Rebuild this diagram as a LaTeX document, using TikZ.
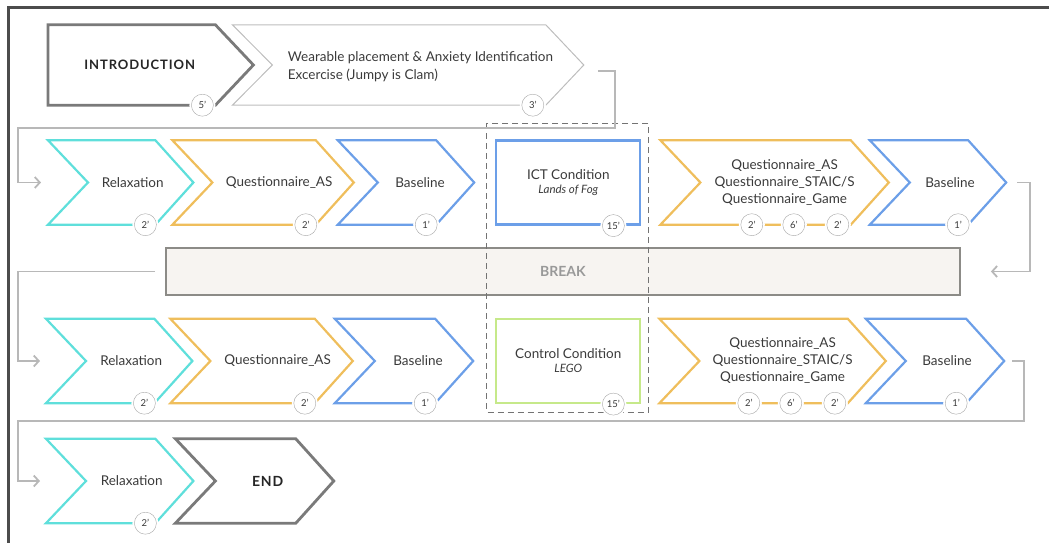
\documentclass[tikz,border=0pt]{standalone}
\usepackage{fontspec}
\setmainfont{Lato}
\usetikzlibrary{positioning,arrows.meta}

\definecolor{relaxcol}{HTML}{5FDFDB}
\definecolor{quescol}{HTML}{EFBE5C}
\definecolor{basecol}{HTML}{6C9FE8}
\definecolor{legocol}{HTML}{C6E98A}
\definecolor{introcol}{HTML}{7A7A7A}
\definecolor{wearcol}{HTML}{BDBDBD}
\definecolor{flowcol}{HTML}{B8B8B8}
\definecolor{breakfill}{HTML}{F7F4F1}
\definecolor{breakline}{HTML}{8C8B87}
\definecolor{textcol}{HTML}{3A3A3A}

\tikzset{
  stepbox/.style={minimum height=84pt, inner sep=0pt, anchor=west},
  steplabel/.style={text=textcol, font=\fontsize{13.5}{18}\selectfont, align=center},
  condbox/.style={rectangle, line width=2.2pt, minimum width=144pt, minimum height=84pt,
    text=textcol, font=\fontsize{13.5}{18}\selectfont, align=center},
  mins/.style={circle, draw=gray!70, fill=white, minimum size=22pt, inner sep=0pt,
    font=\fontsize{9.5}{9.5}\selectfont, text=textcol, preaction={draw=white, line width=4pt}},
  flow/.style={draw=flowcol, line width=1.8pt, -{Straight Barb[length=5pt, width=11pt]}},
  relaxline/.style={draw=relaxcol, line width=2.2pt},
  quesline/.style={draw=quescol, line width=2.2pt},
  baseline/.style={draw=basecol, line width=2.2pt},
}

% chevron outline around a stepbox node (#1 = notch depth)
\newcommand{\chevron}[3][40pt]{%
  \draw[#3, line join=miter] (#2.north west) -- ([xshift=-38pt]#2.north east) -- (#2.east)
    -- ([xshift=-38pt]#2.south east) -- (#2.south west) -- ([xshift=#1]#2.west) -- cycle;}

\begin{document}
\begin{tikzpicture}[x=1pt, y=-1pt]
  \useasboundingbox (0,0) rectangle (1049,543);
  \draw[draw=black!70, line width=3pt] (8,543) -- (8,8) -- (1049,8);

  % intro row
  \node[stepbox, minimum width=205pt, minimum height=80pt,
    label={[xshift=-11pt, text=black!85, font=\fontsize{13}{13}\selectfont\bfseries\addfontfeature{LetterSpace=7}]center:INTRODUCTION}] (intro) at (48,65) {};
  \node[stepbox, minimum width=351pt, minimum height=80pt, right=-21pt of intro,
    label={[anchor=west, xshift=52pt, steplabel, align=left, yshift=-2pt]west:Wearable placement \& Anxiety Identification\\Excercise (Jumpy is Clam)}] (wear) {};
  \chevron[0pt]{intro}{draw=introcol, line width=2.8pt}
  \chevron{wear}{draw=wearcol, line width=1pt}

  % first session
  \node[stepbox, minimum width=145pt, label={[xshift=12pt, steplabel]center:Relaxation}] (rel1) at (48,182.5) {};
  \node[stepbox, minimum width=181pt, right=-21pt of rel1, label={[xshift=16pt, steplabel]center:Questionnaire\_AS}] (qas1) {};
  \node[stepbox, minimum width=136pt, right=-16pt of qas1, label={[xshift=14pt, steplabel]center:Baseline}] (base1) {};
  \node[condbox, draw=basecol, right=21pt of base1] (ict) {ICT Condition\\[-4pt]{\itshape\fontsize{11.5}{14}\selectfont Lands of Fog}};
  \node[stepbox, minimum width=228pt, right=19pt of ict,
    label={[xshift=10pt, steplabel]center:Questionnaire\_AS\\[-1pt]Questionnaire\_STAIC/S\\[-1pt]Questionnaire\_Game}] (qall1) {};
  \node[stepbox, minimum width=136pt, right=-19pt of qall1, label={[xshift=12pt, steplabel]center:Baseline}] (base2) {};
  \chevron{rel1}{relaxline}
  \chevron{qas1}{quesline}
  \chevron{base1}{baseline}
  \chevron{qall1}{quesline}
  \chevron{base2}{baseline}

  % break
  \node[draw=breakline, fill=breakfill, line width=1.8pt, minimum width=794pt, minimum height=47pt,
    text=black!40, font=\fontsize{14}{14}\selectfont\bfseries] (brk) at (563,271.5) {BREAK};

  % second session
  \node[stepbox, minimum width=146pt, label={[xshift=12pt, steplabel]center:Relaxation}] (rel2) at (46,361) {};
  \node[stepbox, minimum width=182pt, right=-22pt of rel2, label={[xshift=16pt, steplabel]center:Questionnaire\_AS}] (qas2) {};
  \node[stepbox, minimum width=138pt, right=-18pt of qas2, label={[xshift=14pt, steplabel]center:Baseline}] (base3) {};
  \node[condbox, draw=legocol, right=22pt of base3] (ctrl) {Control Condition\\[-4pt]{\itshape\fontsize{11.5}{14}\selectfont LEGO}};
  \node[stepbox, minimum width=226pt, right=18pt of ctrl,
    label={[xshift=10pt, steplabel]center:Questionnaire\_AS\\[-1pt]Questionnaire\_STAIC/S\\[-1pt]Questionnaire\_Game}] (qall2) {};
  \node[stepbox, minimum width=138pt, right=-20pt of qall2, label={[xshift=12pt, steplabel]center:Baseline}] (base4) {};
  \chevron{rel2}{relaxline}
  \chevron{qas2}{quesline}
  \chevron{base3}{baseline}
  \chevron{qall2}{quesline}
  \chevron{base4}{baseline}

  % closing row
  \node[stepbox, minimum width=147pt, label={[xshift=12pt, steplabel]center:Relaxation}] (rel3) at (46,481) {};
  \node[stepbox, minimum width=158pt, right=-18pt of rel3,
    label={[xshift=13pt, text=black!85, font=\fontsize{14}{14}\selectfont\bfseries\addfontfeature{LetterSpace=6}]center:END}] (end) {};
  \chevron{rel3}{relaxline}
  \chevron{end}{draw=introcol, line width=2.8pt}

  % conditions frame
  \draw[draw=black!55, line width=1.2pt, dash pattern=on 6pt off 4pt]
    ([shift={(-9pt,16pt)}]ict.north west) rectangle ([shift={(7pt,-8pt)}]ctrl.south east);

  % minutes
  \node[mins] (intro-m) at ([xshift=-51pt]intro.south east) {5’};
  \node[mins] (wear-m) at ([xshift=-51pt]wear.south east) {3’};
  \foreach \s/\t in {rel1/2, qas1/2, base1/1, base2/1, rel2/2, qas2/2, base3/1, base4/1, rel3/2}
    \node[mins] (\s-m) at ([xshift=-48pt]\s.south east) {\t’};
  \node[mins] (ict-m) at ([xshift=-28pt]ict.south east) {15’};
  \node[mins] (ctrl-m) at ([xshift=-28pt]ctrl.south east) {15’};
  \foreach \s in {qall1, qall2} {
    \node[mins] (\s-a) at ([xshift=-137pt]\s.south east) {2’};
    \node[mins] (\s-b) at ([xshift=-95pt]\s.south east) {6’};
    \node[mins] (\s-c) at ([xshift=-51pt]\s.south east) {2’};
  }

  % flow between rows
  \draw[flow] ([xshift=14pt, yshift=-6pt]wear.east) -- ++(17,0)
    |- ([xshift=-30pt, yshift=12pt]rel1.north west) |- ([xshift=-7pt]rel1.west);
  \draw[flow] ([xshift=11pt]base2.east) -- ++(13,0) |- ([xshift=30pt]brk.east);
  \draw[flow] ([xshift=-10pt]brk.west) -| ([xshift=-28pt]rel2.west) -- ([xshift=-6pt]rel2.west);
  \draw[flow] ([xshift=8pt]base4.east) -- ++(12,0)
    |- ([xshift=-28pt, yshift=18pt]rel3.north west) |- ([xshift=-6pt]rel3.west);
\end{tikzpicture}
\end{document}
